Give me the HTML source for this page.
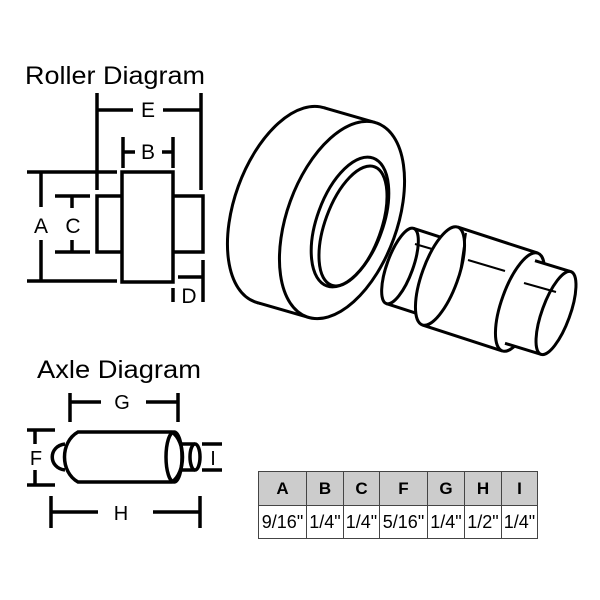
<!DOCTYPE html>
<html><head><meta charset="utf-8"><style>
body{margin:0;background:#fff;width:600px;height:600px;overflow:hidden;font-family:"Liberation Sans",sans-serif}
svg{position:absolute;left:0;top:0}
table{position:absolute;left:258px;top:471px;border-collapse:collapse;font-family:"Liberation Sans",sans-serif}
td{border:1px solid #444;padding:0;text-align:center;color:#000}
tr.h td{background:#ccc;font-weight:bold;font-size:17px;height:33px}
tr.v td{background:#fff;font-size:18px;height:32px}
</style></head><body>
<svg width="600" height="600" viewBox="0 0 600 600" fill="none" stroke="#000" stroke-width="3.5" font-family="Liberation Sans, sans-serif">
<g stroke="none" fill="#000" font-size="25">
<text x="25" y="84" textLength="180" lengthAdjust="spacingAndGlyphs">Roller Diagram</text>
<text x="37" y="378" textLength="164" lengthAdjust="spacingAndGlyphs">Axle Diagram</text>
</g>
<!-- Roller 2D -->
<path d="M97 93V190M201 93V190M97 110H133M163 110H201"/>
<path d="M123 137V168M173 137V168M123 152H135M162 152H173"/>
<rect x="122" y="172" width="51" height="110" fill="#fff"/>
<path d="M122 196H97V252H122M173 196H203V252H173"/>
<path d="M27 172H117M27 281H117M41 172V207M41 240V281"/>
<path d="M55 196H90M55 252H90M72 196V208M72 240V252"/>
<path d="M178 277H203M203 260V302M173 288V302"/>
<g stroke="none" fill="#000" font-size="21">
<text x="148" y="117" text-anchor="middle">E</text>
<text x="148" y="159" text-anchor="middle">B</text>
<text x="41" y="233" text-anchor="middle">A</text>
<text x="73" y="233" text-anchor="middle">C</text>
<text x="189" y="303" text-anchor="middle">D</text>
</g>
<!-- Axle 2D -->
<path d="M70 393V422M178 393V422M70 402H101M146 402H178"/>
<path d="M65 444C48 446 48 468 65 470"/>
<path d="M78 432H172C186 442 186 472 172 482H78C60 472 60 442 78 432Z" fill="#fff"/>
<ellipse cx="174" cy="457" rx="8" ry="25"/>
<path d="M181 444H195M181 470H195"/>
<ellipse cx="195" cy="457" rx="5" ry="13" fill="#fff"/>
<path d="M27 430H55M27 485H55M35 430V444M35 470V485"/>
<path d="M202 444H222M202 470H222"/>
<path d="M51 496V528M200 496V528M51 512H98M153 512H200"/>
<g stroke="none" fill="#000" font-size="20">
<text x="122" y="409" text-anchor="middle">G</text>
<text x="36" y="465" text-anchor="middle">F</text>
<text x="213" y="465" text-anchor="middle">I</text>
<text x="121" y="520" text-anchor="middle">H</text>
</g>
<!-- 3D roller -->
<g stroke-width="3">
<ellipse cx="290" cy="205" rx="55" ry="103" transform="rotate(20 290 205)" fill="#fff"/>
<polygon points="256.7,302.4 323.3,107.6 375.3,122.6 308.7,317.4" fill="#fff" stroke="none"/>
<path d="M256.7 302.4L308.7 317.4M323.3 107.6L375.3 122.6"/>
<ellipse cx="342" cy="220" rx="55" ry="103" transform="rotate(20 342 220)" fill="#fff"/>
<ellipse cx="350" cy="222" rx="33" ry="68" transform="rotate(20 350 222)"/>
<ellipse cx="353" cy="226" rx="28" ry="63" transform="rotate(20 353 226)"/>
</g>
<!-- 3D axle -->
<g stroke-width="3" fill="#fff">
<polygon points="386.3,303.6 423.3,315.6 450.7,240.4 413.7,228.4" stroke="none"/>
<path d="M386.3 303.6L423.3 315.6M413.7 228.4L450.7 240.4"/>
<ellipse cx="400" cy="266" rx="13" ry="40" transform="rotate(20 400 266)"/>
<polygon points="422.2,324.9 502.2,350.9 537.8,253.1 457.8,227.1" stroke="none"/>
<path d="M422.2 324.9L502.2 350.9M457.8 227.1L537.8 253.1"/>
<ellipse cx="440" cy="276" rx="18" ry="52" transform="rotate(20 440 276)"/>
<ellipse cx="520" cy="302" rx="18" ry="52" transform="rotate(20 520 302)"/>
<polygon points="505,343.3 541,354.3 571,271.7 535,260.7" stroke="none"/>
<path d="M505 343.3L541 354.3M535 260.7L571 271.7"/>
<ellipse cx="556" cy="313" rx="14" ry="44" transform="rotate(20 556 313)"/>
<path d="M415 244L432 249M468 260L505 271M524 283L556 292M466 233L460 273" fill="none" stroke-width="2"/>
</g>
</svg>
<table>
<tr class="h"><td style="width:47px">A</td><td style="width:36px">B</td><td style="width:35px">C</td><td style="width:47px">F</td><td style="width:36px">G</td><td style="width:36px">H</td><td style="width:35px">I</td></tr>
<tr class="v"><td>9/16"</td><td>1/4"</td><td>1/4"</td><td>5/16"</td><td>1/4"</td><td>1/2"</td><td>1/4"</td></tr>
</table>
</body></html>
